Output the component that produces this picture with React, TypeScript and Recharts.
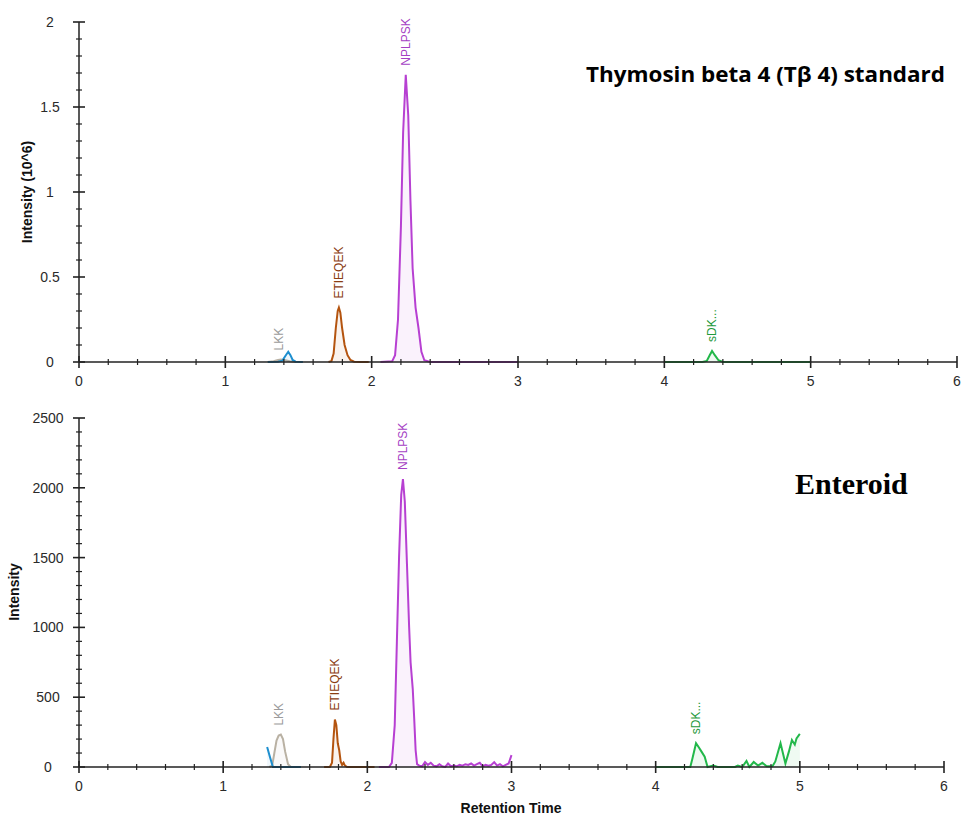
import React from 'react';
import { ComposedChart, Area, XAxis, YAxis, ReferenceDot } from 'recharts';

// ---------- Data: standard (Tβ4), intensity in 10^6 ----------
const stdLKKgray = [
  { t: 1.29, v: 0 }, { t: 1.33, v: 0.004 }, { t: 1.36, v: 0.012 }, { t: 1.38, v: 0.015 },
  { t: 1.41, v: 0.01 }, { t: 1.44, v: 0.004 }, { t: 1.48, v: 0 },
];
const stdLKKblue = [
  { t: 1.29, v: 0 }, { t: 1.36, v: 0.002 }, { t: 1.39, v: 0.008 }, { t: 1.41, v: 0.035 },
  { t: 1.43, v: 0.06 }, { t: 1.445, v: 0.04 }, { t: 1.46, v: 0.012 }, { t: 1.48, v: 0.002 },
  { t: 1.53, v: 0 },
];
const stdETIEQEK = [
  { t: 1.705, v: 0 }, { t: 1.725, v: 0.005 }, { t: 1.74, v: 0.05 }, { t: 1.755, v: 0.2 },
  { t: 1.768, v: 0.3 }, { t: 1.776, v: 0.32 }, { t: 1.786, v: 0.29 }, { t: 1.798, v: 0.2 },
  { t: 1.815, v: 0.1 }, { t: 1.835, v: 0.04 }, { t: 1.855, v: 0.012 }, { t: 1.88, v: 0.002 },
  { t: 1.92, v: 0 }, { t: 1.98, v: 0 },
];
const stdNPLPSK = [
  { t: 2.06, v: 0 }, { t: 2.14, v: 0.004 }, { t: 2.16, v: 0.04 }, { t: 2.18, v: 0.25 },
  { t: 2.2, v: 0.8 }, { t: 2.215, v: 1.35 }, { t: 2.233, v: 1.69 }, { t: 2.25, v: 1.45 },
  { t: 2.265, v: 0.95 }, { t: 2.28, v: 0.55 }, { t: 2.3, v: 0.32 }, { t: 2.32, v: 0.2 },
  { t: 2.34, v: 0.06 }, { t: 2.36, v: 0.01 }, { t: 2.4, v: 0 }, { t: 3.0, v: 0 },
];
const stdSDK = [
  { t: 4.0, v: 0 }, { t: 4.26, v: 0 }, { t: 4.29, v: 0.006 }, { t: 4.31, v: 0.04 },
  { t: 4.326, v: 0.065 }, { t: 4.345, v: 0.04 }, { t: 4.37, v: 0.01 }, { t: 4.4, v: 0 },
  { t: 5.0, v: 0 },
];

// ---------- Data: enteroid, intensity ----------
const entLKKblue = [
  { t: 1.305, v: 143 }, { t: 1.325, v: 70 }, { t: 1.345, v: 0 }, { t: 1.45, v: 0 }, { t: 1.54, v: 0 },
];
const entLKKgray = [
  { t: 1.32, v: 0 }, { t: 1.34, v: 10 }, { t: 1.355, v: 100 }, { t: 1.37, v: 190 },
  { t: 1.385, v: 225 }, { t: 1.4, v: 232 }, { t: 1.415, v: 200 }, { t: 1.43, v: 110 },
  { t: 1.45, v: 20 }, { t: 1.47, v: 0 },
];
const entETIEQEK = [
  { t: 1.7, v: 0 }, { t: 1.74, v: 0 }, { t: 1.755, v: 30 }, { t: 1.765, v: 200 },
  { t: 1.775, v: 340 }, { t: 1.785, v: 300 }, { t: 1.795, v: 170 }, { t: 1.805, v: 120 },
  { t: 1.815, v: 40 }, { t: 1.825, v: 15 }, { t: 1.835, v: 30 }, { t: 1.845, v: 10 },
  { t: 1.86, v: 0 }, { t: 2.05, v: 0 },
];
const entNPLPSK = [
  { t: 2.08, v: 0 }, { t: 2.15, v: 0 }, { t: 2.17, v: 30 }, { t: 2.19, v: 300 },
  { t: 2.205, v: 900 }, { t: 2.22, v: 1500 }, { t: 2.235, v: 1950 }, { t: 2.247, v: 2063 },
  { t: 2.26, v: 1900 }, { t: 2.275, v: 1450 }, { t: 2.29, v: 1000 }, { t: 2.3, v: 750 },
  { t: 2.315, v: 560 }, { t: 2.325, v: 350 }, { t: 2.335, v: 120 }, { t: 2.345, v: 20 },
  { t: 2.36, v: 10 }, { t: 2.38, v: 5 }, { t: 2.4, v: 35 }, { t: 2.42, v: 15 },
  { t: 2.44, v: 30 }, { t: 2.46, v: 10 }, { t: 2.48, v: 5 }, { t: 2.5, v: 20 },
  { t: 2.52, v: 5 }, { t: 2.54, v: 0 }, { t: 2.56, v: 25 }, { t: 2.58, v: 5 },
  { t: 2.6, v: 10 }, { t: 2.62, v: 5 }, { t: 2.64, v: 15 }, { t: 2.66, v: 10 },
  { t: 2.68, v: 20 }, { t: 2.7, v: 15 }, { t: 2.72, v: 25 }, { t: 2.74, v: 10 },
  { t: 2.76, v: 20 }, { t: 2.78, v: 30 }, { t: 2.8, v: 5 }, { t: 2.82, v: 15 },
  { t: 2.84, v: 10 }, { t: 2.86, v: 15 }, { t: 2.88, v: 35 }, { t: 2.9, v: 10 },
  { t: 2.92, v: 20 }, { t: 2.94, v: 5 }, { t: 2.96, v: 15 }, { t: 2.98, v: 25 },
  { t: 3.0, v: 85 },
];
const entSDK = [
  { t: 4.0, v: 0 }, { t: 4.24, v: 0 }, { t: 4.255, v: 60 }, { t: 4.28, v: 170 },
  { t: 4.3, v: 140 }, { t: 4.318, v: 110 }, { t: 4.34, v: 74 }, { t: 4.36, v: 0 },
  { t: 4.4, v: 10 }, { t: 4.43, v: 0 }, { t: 4.55, v: 0 }, { t: 4.57, v: 10 },
  { t: 4.6, v: 0 }, { t: 4.63, v: 43 }, { t: 4.65, v: 0 }, { t: 4.68, v: 36 },
  { t: 4.71, v: 10 }, { t: 4.74, v: 30 }, { t: 4.77, v: 5 }, { t: 4.81, v: 5 },
  { t: 4.83, v: 40 }, { t: 4.866, v: 170 }, { t: 4.9, v: 25 }, { t: 4.924, v: 110 },
  { t: 4.945, v: 193 }, { t: 4.965, v: 160 }, { t: 4.977, v: 205 }, { t: 5.0, v: 237 },
];

// ---------- Ticks ----------
const xMajorTicks = [0, 1, 2, 3, 4, 5, 6];
const topYMajorTicks = [0, 0.5, 1, 1.5, 2];
const bottomYMajorTicks = [0, 500, 1000, 1500, 2000, 2500];
const xMinorStep = 0.2;
const topYMinorStep = 0.1;
const bottomYMinorStep = 100;

const buildTicks = (majors: number[], step: number) => {
  const out: number[] = [];
  const max = majors[majors.length - 1];
  const n = Math.round((max - majors[0]) / step);
  for (let i = 0; i <= n; i++) out.push(Math.round((majors[0] + i * step) * 1000) / 1000);
  return out;
};
const isMajor = (v: number, majors: number[]) => majors.some((m) => Math.abs(m - v) < 1e-6);

// ---------- Peak annotations ----------
const topPeaks = [
  { label: 'LKK', t: 1.37, v: 0.015, color: '#9b9b9b' },
  { label: 'ETIEQEK', t: 1.776, v: 0.32, color: '#8a3d12' },
  { label: 'NPLPSK', t: 2.233, v: 1.69, color: '#a53fc4' },
  { label: 'sDK...', t: 4.326, v: 0.065, color: '#1f9a3c' },
];
const bottomPeaks = [
  { label: 'LKK', t: 1.39, v: 232, color: '#9b9b9b' },
  { label: 'ETIEQEK', t: 1.775, v: 340, color: '#8a3d12' },
  { label: 'NPLPSK', t: 2.247, v: 2063, color: '#a53fc4' },
  { label: 'sDK...', t: 4.28, v: 170, color: '#1f9a3c' },
];

// ---------- Colors ----------
const C_BLUE = '#1e8fcf';
const C_GRAY = '#b9b1a3';
const C_BROWN = '#b4540f';
const C_PURPLE = '#b740d2';
const C_GREEN = '#22b84a';

const FONT = '"Liberation Sans", Arial, sans-serif';
const AXIS = '#222';

const XTick = (props: any) => {
  const { x, y, payload } = props;
  const v = payload.value;
  const major = isMajor(v, xMajorTicks);
  const h = major ? 6 : 3;
  return (
    <g>
      <line x1={x} x2={x} y1={y - h} y2={y + h} stroke={AXIS} strokeWidth={major ? 1.6 : 1.2} />
      {major && (
        <text x={x} y={y + 24} textAnchor="middle" fontFamily={FONT} fontSize={14} fill="#2a2a2a">
          {Math.round(v)}
        </text>
      )}
    </g>
  );
};

const makeYTick = (majors: number[], labelDx: number) => (props: any) => {
  const { x, y, payload } = props;
  const v = payload.value;
  const major = isMajor(v, majors);
  const w = major ? 6 : 3;
  return (
    <g>
      <line x1={x - w} x2={x + w} y1={y} y2={y} stroke={AXIS} strokeWidth={major ? 1.6 : 1.2} />
      {major && (
        <text x={x - labelDx} y={y + 5} textAnchor="middle" fontFamily={FONT} fontSize={14} fill="#2a2a2a">
          {String(v)}
        </text>
      )}
    </g>
  );
};

const PeakLabel = ({ cx, cy, text, color }: any) => (
  <text
    x={0}
    y={0}
    transform={`translate(${cx},${cy - 9}) rotate(-90)`}
    textAnchor="start"
    dominantBaseline="central"
    fontFamily={FONT}
    fontSize={12}
    fill={color}
  >
    {text}
  </text>
);

const series = (data: any[], color: string, key: string) => (
  <Area
    key={key}
    data={data}
    dataKey="v"
    type="linear"
    stroke={color}
    strokeWidth={2}
    fill={color}
    fillOpacity={0.07}
    isAnimationActive={false}
    dot={false}
    activeDot={false}
  />
);

const topYTick = makeYTick(topYMajorTicks, 29);
const bottomYTick = makeYTick(bottomYMajorTicks, 31);

export default function App() {
  const xTicks = buildTicks(xMajorTicks, xMinorStep);
  return (
    <div style={{ position: 'absolute', left: 0, top: 0, width: 962, height: 818, background: '#fff' }}>
      <div style={{ position: 'absolute', left: 0, top: 0 }}>
        <ComposedChart width={962} height={400} margin={{ top: 22, right: 5, bottom: 8, left: 0 }}>
          <XAxis
            type="number"
            dataKey="t"
            domain={[0, 6]}
            ticks={xTicks}
            interval={0}
            tick={<XTick />}
            tickLine={false}
            tickSize={0}
            tickMargin={0}
            height={30}
            stroke={AXIS}
            strokeWidth={1.5}
            allowDuplicatedCategory={false}
          />
          <YAxis
            type="number"
            domain={[0, 2]}
            ticks={buildTicks(topYMajorTicks, topYMinorStep)}
            interval={0}
            tick={topYTick}
            tickLine={false}
            tickSize={0}
            tickMargin={0}
            width={79}
            stroke={AXIS}
            strokeWidth={1.5}
          />
          {series(stdLKKgray, C_GRAY, 's1')}
          {series(stdLKKblue, C_BLUE, 's2')}
          {series(stdETIEQEK, C_BROWN, 's3')}
          {series(stdNPLPSK, C_PURPLE, 's4')}
          {series(stdSDK, C_GREEN, 's5')}
          {topPeaks.map((p) => (
            <ReferenceDot
              key={p.label}
              x={p.t}
              y={p.v}
              r={1}
              ifOverflow="visible"
              shape={(sp: any) => <PeakLabel cx={sp.cx} cy={sp.cy} text={p.label} color={p.color} />}
            />
          ))}
        </ComposedChart>
      </div>
      <div style={{ position: 'absolute', left: 0, top: 400 }}>
        <ComposedChart width={962} height={418} margin={{ top: 18, right: 18, bottom: 21, left: 0 }}>
          <XAxis
            type="number"
            dataKey="t"
            domain={[0, 6]}
            ticks={xTicks}
            interval={0}
            tick={<XTick />}
            tickLine={false}
            tickSize={0}
            tickMargin={0}
            height={30}
            stroke={AXIS}
            strokeWidth={1.5}
            allowDuplicatedCategory={false}
          />
          <YAxis
            type="number"
            domain={[0, 2500]}
            ticks={buildTicks(bottomYMajorTicks, bottomYMinorStep)}
            interval={0}
            tick={bottomYTick}
            tickLine={false}
            tickSize={0}
            tickMargin={0}
            width={79}
            stroke={AXIS}
            strokeWidth={1.5}
          />
          {series(entLKKgray, C_GRAY, 'e1')}
          {series(entLKKblue, C_BLUE, 'e2')}
          {series(entETIEQEK, C_BROWN, 'e3')}
          {series(entNPLPSK, C_PURPLE, 'e4')}
          {series(entSDK, C_GREEN, 'e5')}
          {bottomPeaks.map((p) => (
            <ReferenceDot
              key={p.label}
              x={p.t}
              y={p.v}
              r={1}
              ifOverflow="visible"
              shape={(sp: any) => <PeakLabel cx={sp.cx} cy={sp.cy} text={p.label} color={p.color} />}
            />
          ))}
        </ComposedChart>
      </div>
      <svg
        width={962}
        height={818}
        style={{ position: 'absolute', left: 0, top: 0, pointerEvents: 'none' }}
      >
        <text
          x={586}
          y={82}
          fontFamily='"Open Sans", "Noto Sans", sans-serif'
          fontWeight={700}
          fontSize={21}
          textLength={359}
          lengthAdjust="spacingAndGlyphs"
          fill="#000"
        >
          Thymosin beta 4 (Tβ 4) standard
        </text>
        <text
          x={795}
          y={494}
          fontFamily='"Liberation Serif", "Times New Roman", serif'
          fontWeight={700}
          fontSize={30}
          fill="#000"
        >
          Enteroid
        </text>
        <text
          transform="translate(32,192) rotate(-90)"
          textAnchor="middle"
          fontFamily={FONT}
          fontWeight={700}
          fontSize={14}
          fill="#111"
        >
          Intensity (10^6)
        </text>
        <text
          transform="translate(19,592) rotate(-90)"
          textAnchor="middle"
          fontFamily={FONT}
          fontWeight={700}
          fontSize={14}
          fill="#111"
        >
          Intensity
        </text>
        <text
          x={511}
          y={813}
          textAnchor="middle"
          fontFamily={FONT}
          fontWeight={700}
          fontSize={14}
          fill="#111"
        >
          Retention Time
        </text>
      </svg>
    </div>
  );
}
